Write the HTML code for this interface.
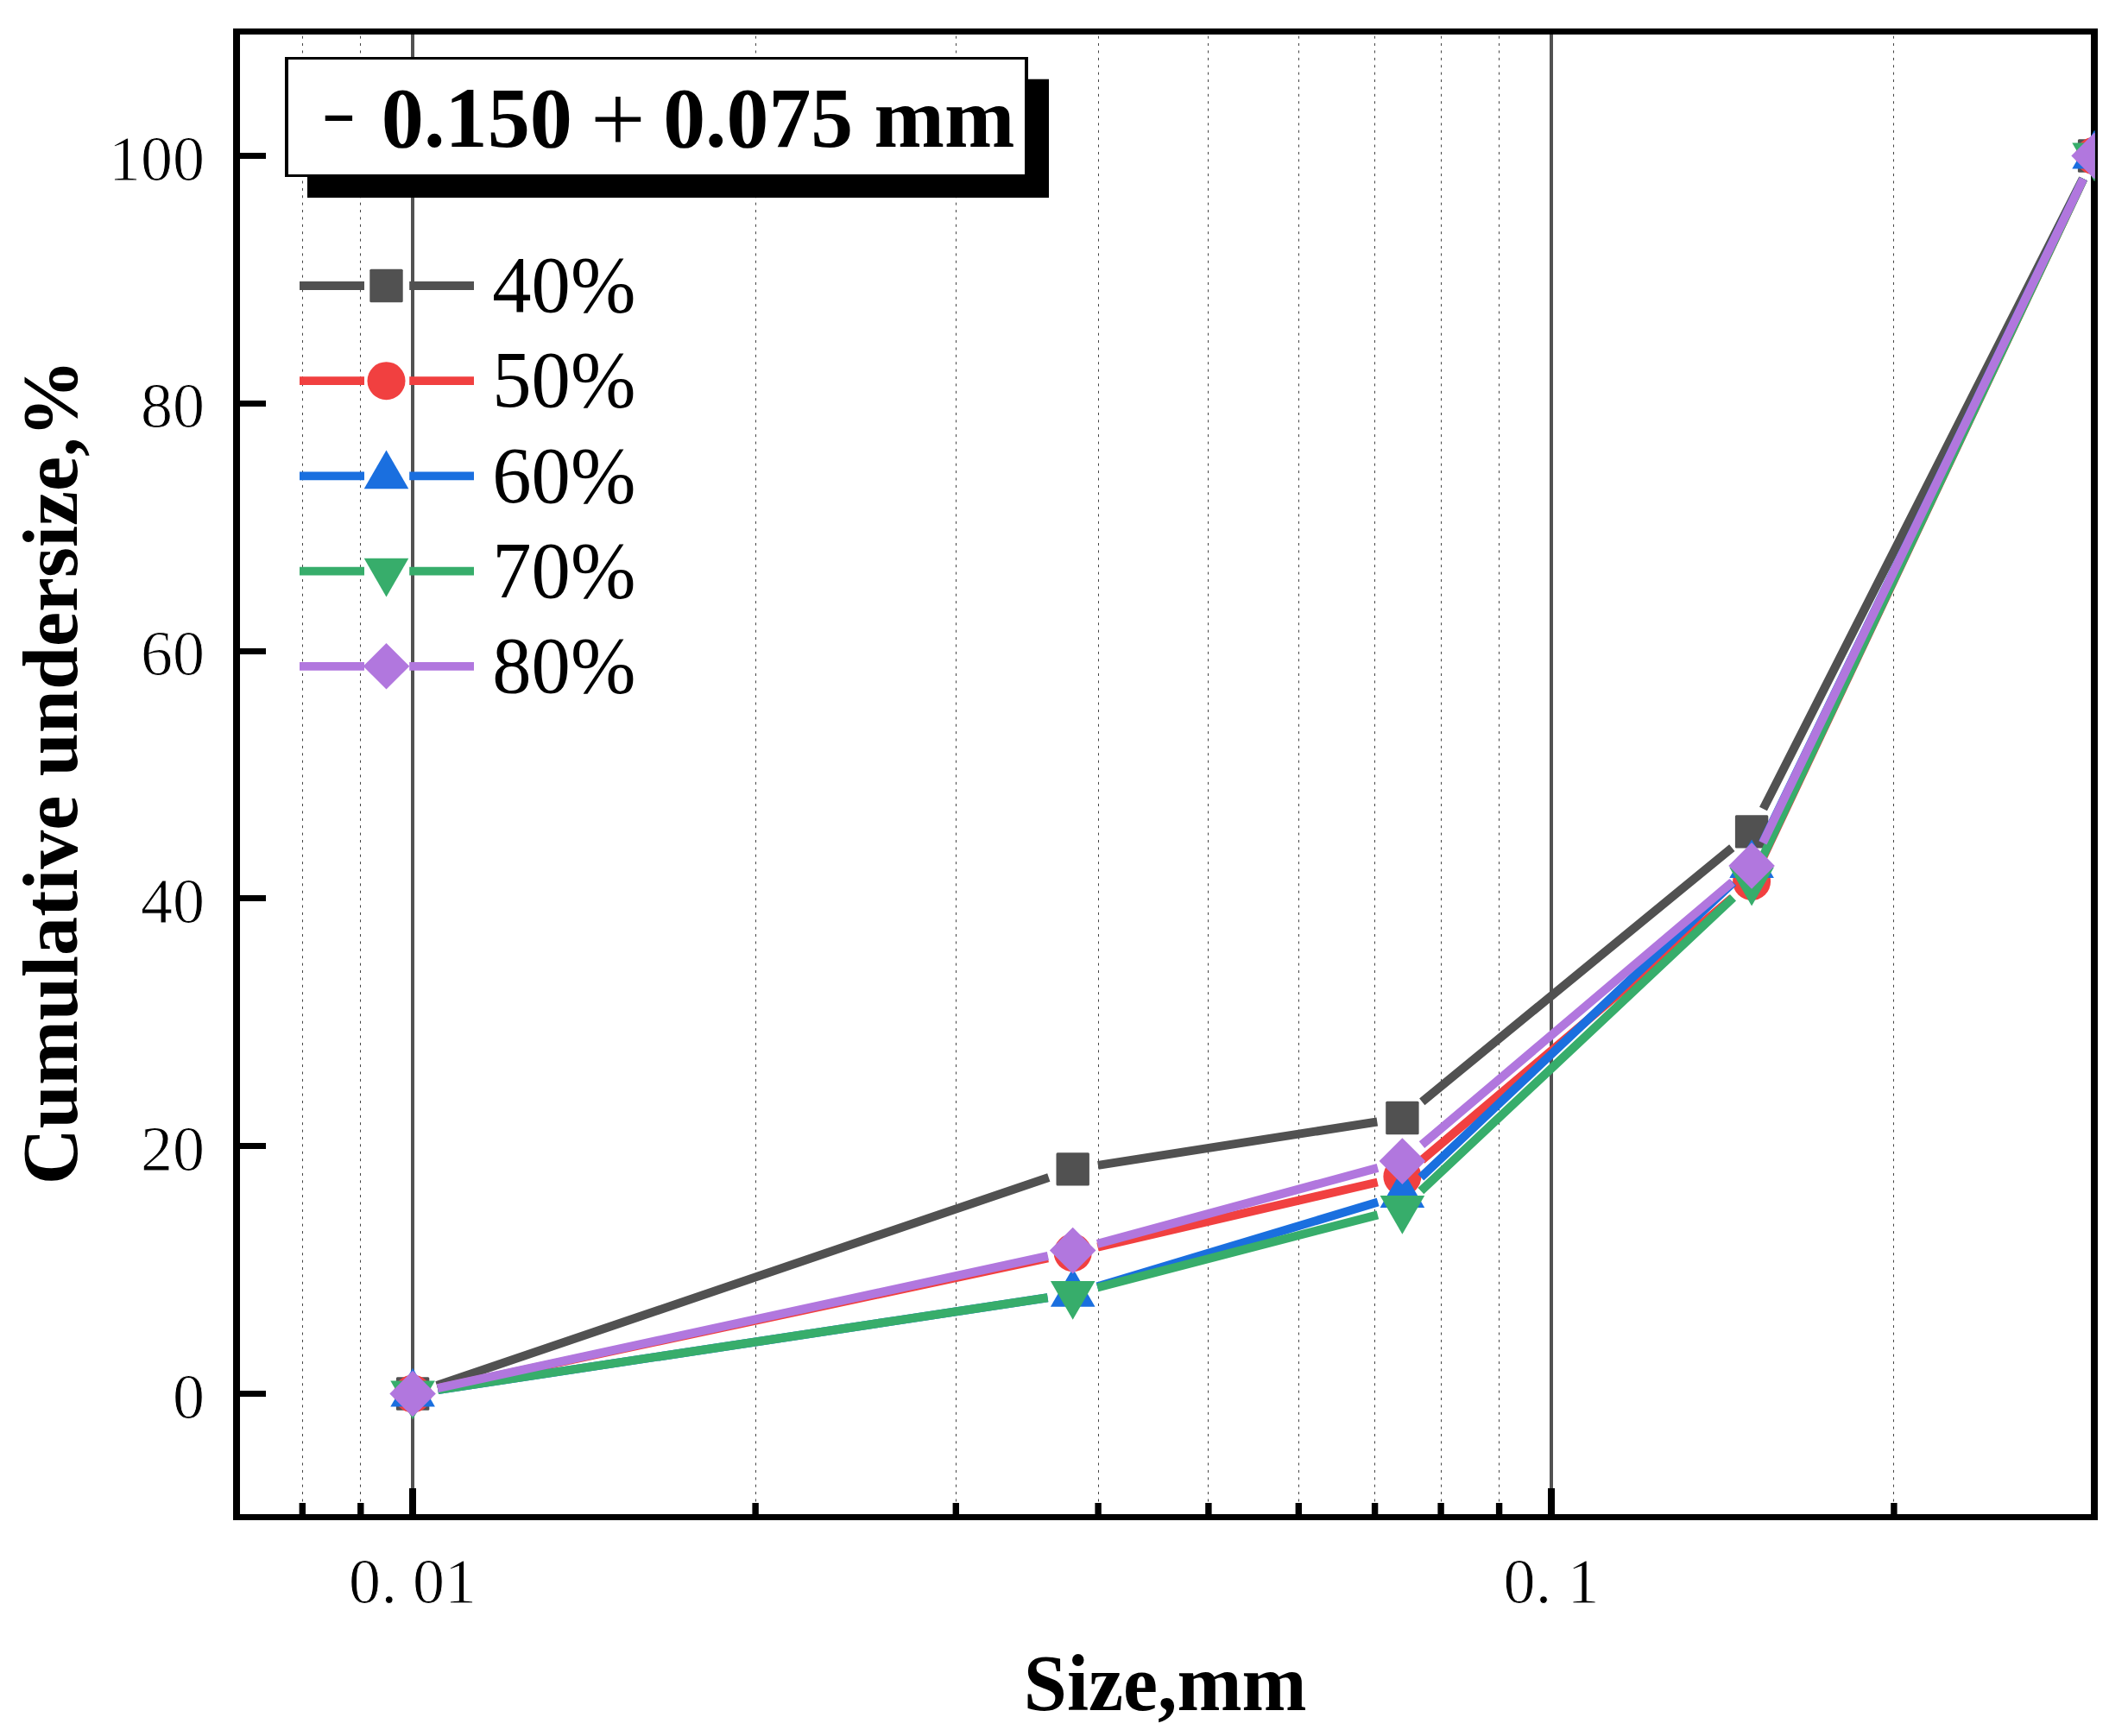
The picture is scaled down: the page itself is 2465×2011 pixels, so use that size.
<!DOCTYPE html>
<html lang="en"><head><meta charset="utf-8"><title>Cumulative undersize - 0.150 + 0.075 mm</title>
<style>
html,body{margin:0;padding:0;background:#fff;}
body{width:2465px;height:2011px;overflow:hidden;}
svg{display:block;}
text{font-family:"Liberation Serif","Times New Roman",serif;fill:#000;}
.tk{font-size:74px;stroke:#fff;stroke-width:0.9px;}
.lg{font-size:90.6px;}
.ax{font-size:90.1px;font-weight:bold;}
.tt{font-size:98.3px;font-weight:bold;}
.tp{font-size:113px;}
.tm{font-size:83px;}
</style></head><body>
<svg width="2465" height="2011" viewBox="0 0 2465 2011">
<rect width="2465" height="2011" fill="#fff"/>
<defs><clipPath id="pc"><rect x="274" y="36.5" width="2152.8" height="1721"/></clipPath></defs>
<g stroke="#444" stroke-width="1" stroke-dasharray="3 5.39" fill="none">
<line x1="350.5" y1="41.7" x2="350.5" y2="1753"/>
<line x1="417.5" y1="41.7" x2="417.5" y2="1753"/>
<line x1="875.5" y1="41.7" x2="875.5" y2="1753"/>
<line x1="1107.5" y1="41.7" x2="1107.5" y2="1753"/>
<line x1="1272.5" y1="41.7" x2="1272.5" y2="1753"/>
<line x1="1399.5" y1="41.7" x2="1399.5" y2="1753"/>
<line x1="1504.5" y1="41.7" x2="1504.5" y2="1753"/>
<line x1="1592.5" y1="41.7" x2="1592.5" y2="1753"/>
<line x1="1669.5" y1="41.7" x2="1669.5" y2="1753"/>
<line x1="1736.5" y1="41.7" x2="1736.5" y2="1753"/>
<line x1="2193.5" y1="41.7" x2="2193.5" y2="1753"/>
</g>
<g fill="#525252">
<rect x="476" y="40" width="4" height="1714"/>
<rect x="1795" y="40" width="4" height="1714"/>
</g>
<path fill="#000" fill-rule="evenodd" d="M270 33H2430V1761H270ZM278 40V1754H2422V40Z"/>
<g fill="#000">
<rect x="277" y="1611" width="31" height="7"/>
<rect x="277" y="1324" width="31" height="7"/>
<rect x="277" y="1037" width="31" height="7"/>
<rect x="277" y="751" width="31" height="7"/>
<rect x="277" y="464" width="31" height="7"/>
<rect x="277" y="177" width="31" height="7"/>
<rect x="474" y="1724" width="8" height="31"/>
<rect x="1793" y="1724" width="8" height="31"/>
<rect x="346.6" y="1741" width="7.4" height="14"/>
<rect x="414.1" y="1741" width="7.4" height="14"/>
<rect x="871.4" y="1741" width="7.4" height="14"/>
<rect x="1103.6" y="1741" width="7.4" height="14"/>
<rect x="1268.4" y="1741" width="7.4" height="14"/>
<rect x="1396.2" y="1741" width="7.4" height="14"/>
<rect x="1500.6" y="1741" width="7.4" height="14"/>
<rect x="1588.9" y="1741" width="7.4" height="14"/>
<rect x="1665.4" y="1741" width="7.4" height="14"/>
<rect x="1732.9" y="1741" width="7.4" height="14"/>
<rect x="2190.2" y="1741" width="7.4" height="14"/>
</g>
<g class="tk" text-anchor="end">
<text x="237" y="1642.5">0</text>
<text x="237" y="1355.7">20</text>
<text x="237" y="1068.9">40</text>
<text x="237" y="782.1">60</text>
<text x="237" y="495.3">80</text>
<text x="237" y="208.5">100</text>
</g>
<text class="tk" x="404.1 441.4 478.1 515.1" y="1856.5">0.01</text>
<text class="tk" x="1741.4 1778.7 1815.4" y="1856.5">0.1</text>
<text class="ax" text-anchor="middle" transform="translate(1349.7 1981.1) scale(1 1.025)">Size,mm</text>
<text class="ax" text-anchor="middle" transform="translate(89.4 894.3) rotate(-90) scale(1 1.012)">Cumulative undersize,%</text>
<g clip-path="url(#pc)">
<path d="M506 1605L1214.8 1363.9M1271.9 1349.9L1595.3 1299.5M1647.3 1276.3L2006.3 982.1M2042.5 937.1L2412.8 206.8" stroke="#515151" stroke-width="10" fill="none"/>
<rect x="458.9" y="1595.3" width="38.4" height="38.4" rx="1.5" fill="#515151"/>
<rect x="1223.5" y="1335.2" width="38.4" height="38.4" rx="1.5" fill="#515151"/>
<rect x="1605.2" y="1275.8" width="38.4" height="38.4" rx="1.5" fill="#515151"/>
<rect x="2009.9" y="944.2" width="38.4" height="38.4" rx="1.5" fill="#515151"/>
<rect x="2406.9" y="161.3" width="38.4" height="38.4" rx="1.5" fill="#515151"/>
<path d="M506.9 1608.3L1213.9 1457.4M1271.5 1444.6L1595.7 1369.5M1647 1343.9L2006.6 1040M2041.7 994.3L2413.5 207.2" stroke="#F14040" stroke-width="10" fill="none"/>
<circle cx="478.1" cy="1614.5" r="22" fill="#F14040"/>
<circle cx="1242.7" cy="1451.2" r="22" fill="#F14040"/>
<circle cx="1624.4" cy="1362.9" r="22" fill="#F14040"/>
<circle cx="2029.1" cy="1021" r="22" fill="#F14040"/>
<circle cx="2426.1" cy="180.5" r="22" fill="#F14040"/>
<path d="M507.3 1610.1L1213.6 1503.3M1271 1490.4L1596.2 1392.5M1645.9 1363.8L2007.7 1022.4M2042 975.6L2413.3 207.1" stroke="#1A6FDF" stroke-width="10" fill="none"/>
<polygon points="478.1,1584.7 503.9,1629.4 452.3,1629.4" fill="#1A6FDF"/>
<polygon points="1242.7,1469.1 1268.5,1513.8 1216.9,1513.8" fill="#1A6FDF"/>
<polygon points="1624.4,1354.2 1650.2,1398.9 1598.6,1398.9" fill="#1A6FDF"/>
<polygon points="2029.1,972.4 2054.9,1017.1 2003.3,1017.1" fill="#1A6FDF"/>
<polygon points="2426.1,150.7 2451.9,195.4 2400.3,195.4" fill="#1A6FDF"/>
<path d="M507.3 1610.1L1213.6 1503.3M1271.3 1491.5L1595.9 1407.3M1645.9 1379.7L2007.6 1039.8M2041.7 992.9L2413.5 207.2" stroke="#37AD6B" stroke-width="10" fill="none"/>
<polygon points="478.1,1644.3 503.9,1599.6 452.3,1599.6" fill="#37AD6B"/>
<polygon points="1242.7,1528.7 1268.5,1484 1216.9,1484" fill="#37AD6B"/>
<polygon points="1624.4,1429.7 1650.2,1385 1598.6,1385" fill="#37AD6B"/>
<polygon points="2029.1,1049.4 2054.9,1004.7 2003.3,1004.7" fill="#37AD6B"/>
<polygon points="2426.1,210.3 2451.9,165.6 2400.3,165.6" fill="#37AD6B"/>
<path d="M506.9 1608.2L1213.9 1454.9M1271.2 1440.9L1596 1352.8M1647 1326.1L2006.6 1021.9M2042 976.3L2413.3 207.1" stroke="#B177DE" stroke-width="10" fill="none"/>
<polygon points="478.1,1587.7 504.9,1614.5 478.1,1641.3 451.3,1614.5" fill="#B177DE"/>
<polygon points="1242.7,1421.8 1269.5,1448.6 1242.7,1475.4 1215.9,1448.6" fill="#B177DE"/>
<polygon points="1624.4,1318.3 1651.2,1345.1 1624.4,1371.9 1597.6,1345.1" fill="#B177DE"/>
<polygon points="2029.1,976.1 2055.9,1002.9 2029.1,1029.7 2002.3,1002.9" fill="#B177DE"/>
<polygon points="2426.1,153.7 2452.9,180.5 2426.1,207.3 2399.3,180.5" fill="#B177DE"/>
</g>
<path d="M347 331H422M474.2 331H549" stroke="#515151" stroke-width="9.8" fill="none"/>
<rect x="428.3" y="311.8" width="38.4" height="38.4" rx="1.5" fill="#515151"/>
<text class="lg" transform="translate(570.3 361.1) scale(1 1.027)">40%</text>
<path d="M347 441.2H422M474.2 441.2H549" stroke="#F14040" stroke-width="9.8" fill="none"/>
<circle cx="447.5" cy="441.2" r="22" fill="#F14040"/>
<text class="lg" transform="translate(570.3 471.4) scale(1 1.027)">50%</text>
<path d="M347 551.4H422M474.2 551.4H549" stroke="#1A6FDF" stroke-width="9.8" fill="none"/>
<polygon points="447.5,521.6 473.3,566.3 421.7,566.3" fill="#1A6FDF"/>
<text class="lg" transform="translate(570.3 581.6) scale(1 1.027)">60%</text>
<path d="M347 661.6H422M474.2 661.6H549" stroke="#37AD6B" stroke-width="9.8" fill="none"/>
<polygon points="447.5,691.4 473.3,646.7 421.7,646.7" fill="#37AD6B"/>
<text class="lg" transform="translate(570.3 691.9) scale(1 1.027)">70%</text>
<path d="M347 771.8H422M474.2 771.8H549" stroke="#B177DE" stroke-width="9.8" fill="none"/>
<polygon points="447.5,745 474.3,771.8 447.5,798.6 420.7,771.8" fill="#B177DE"/>
<text class="lg" transform="translate(570.3 802.1) scale(1 1.027)">80%</text>
<rect x="356" y="91.7" width="859" height="137.3" fill="#000"/>
<rect x="330" y="66" width="861" height="139" fill="#000"/>
<rect x="334" y="69" width="853" height="133" fill="#fff"/>
<text class="tm" transform="translate(392.5 136.9) scale(1.455 1)" x="-13.86" y="19.55">-</text>
<text class="tt" transform="translate(441.8 169.8) scale(1 1.02)">0.150</text>
<text class="tp" x="683.9" y="175.5">+</text>
<text class="tt" transform="translate(768.2 169.8) scale(0.9945 1.02)">0.075 mm</text>
</svg></body></html>
